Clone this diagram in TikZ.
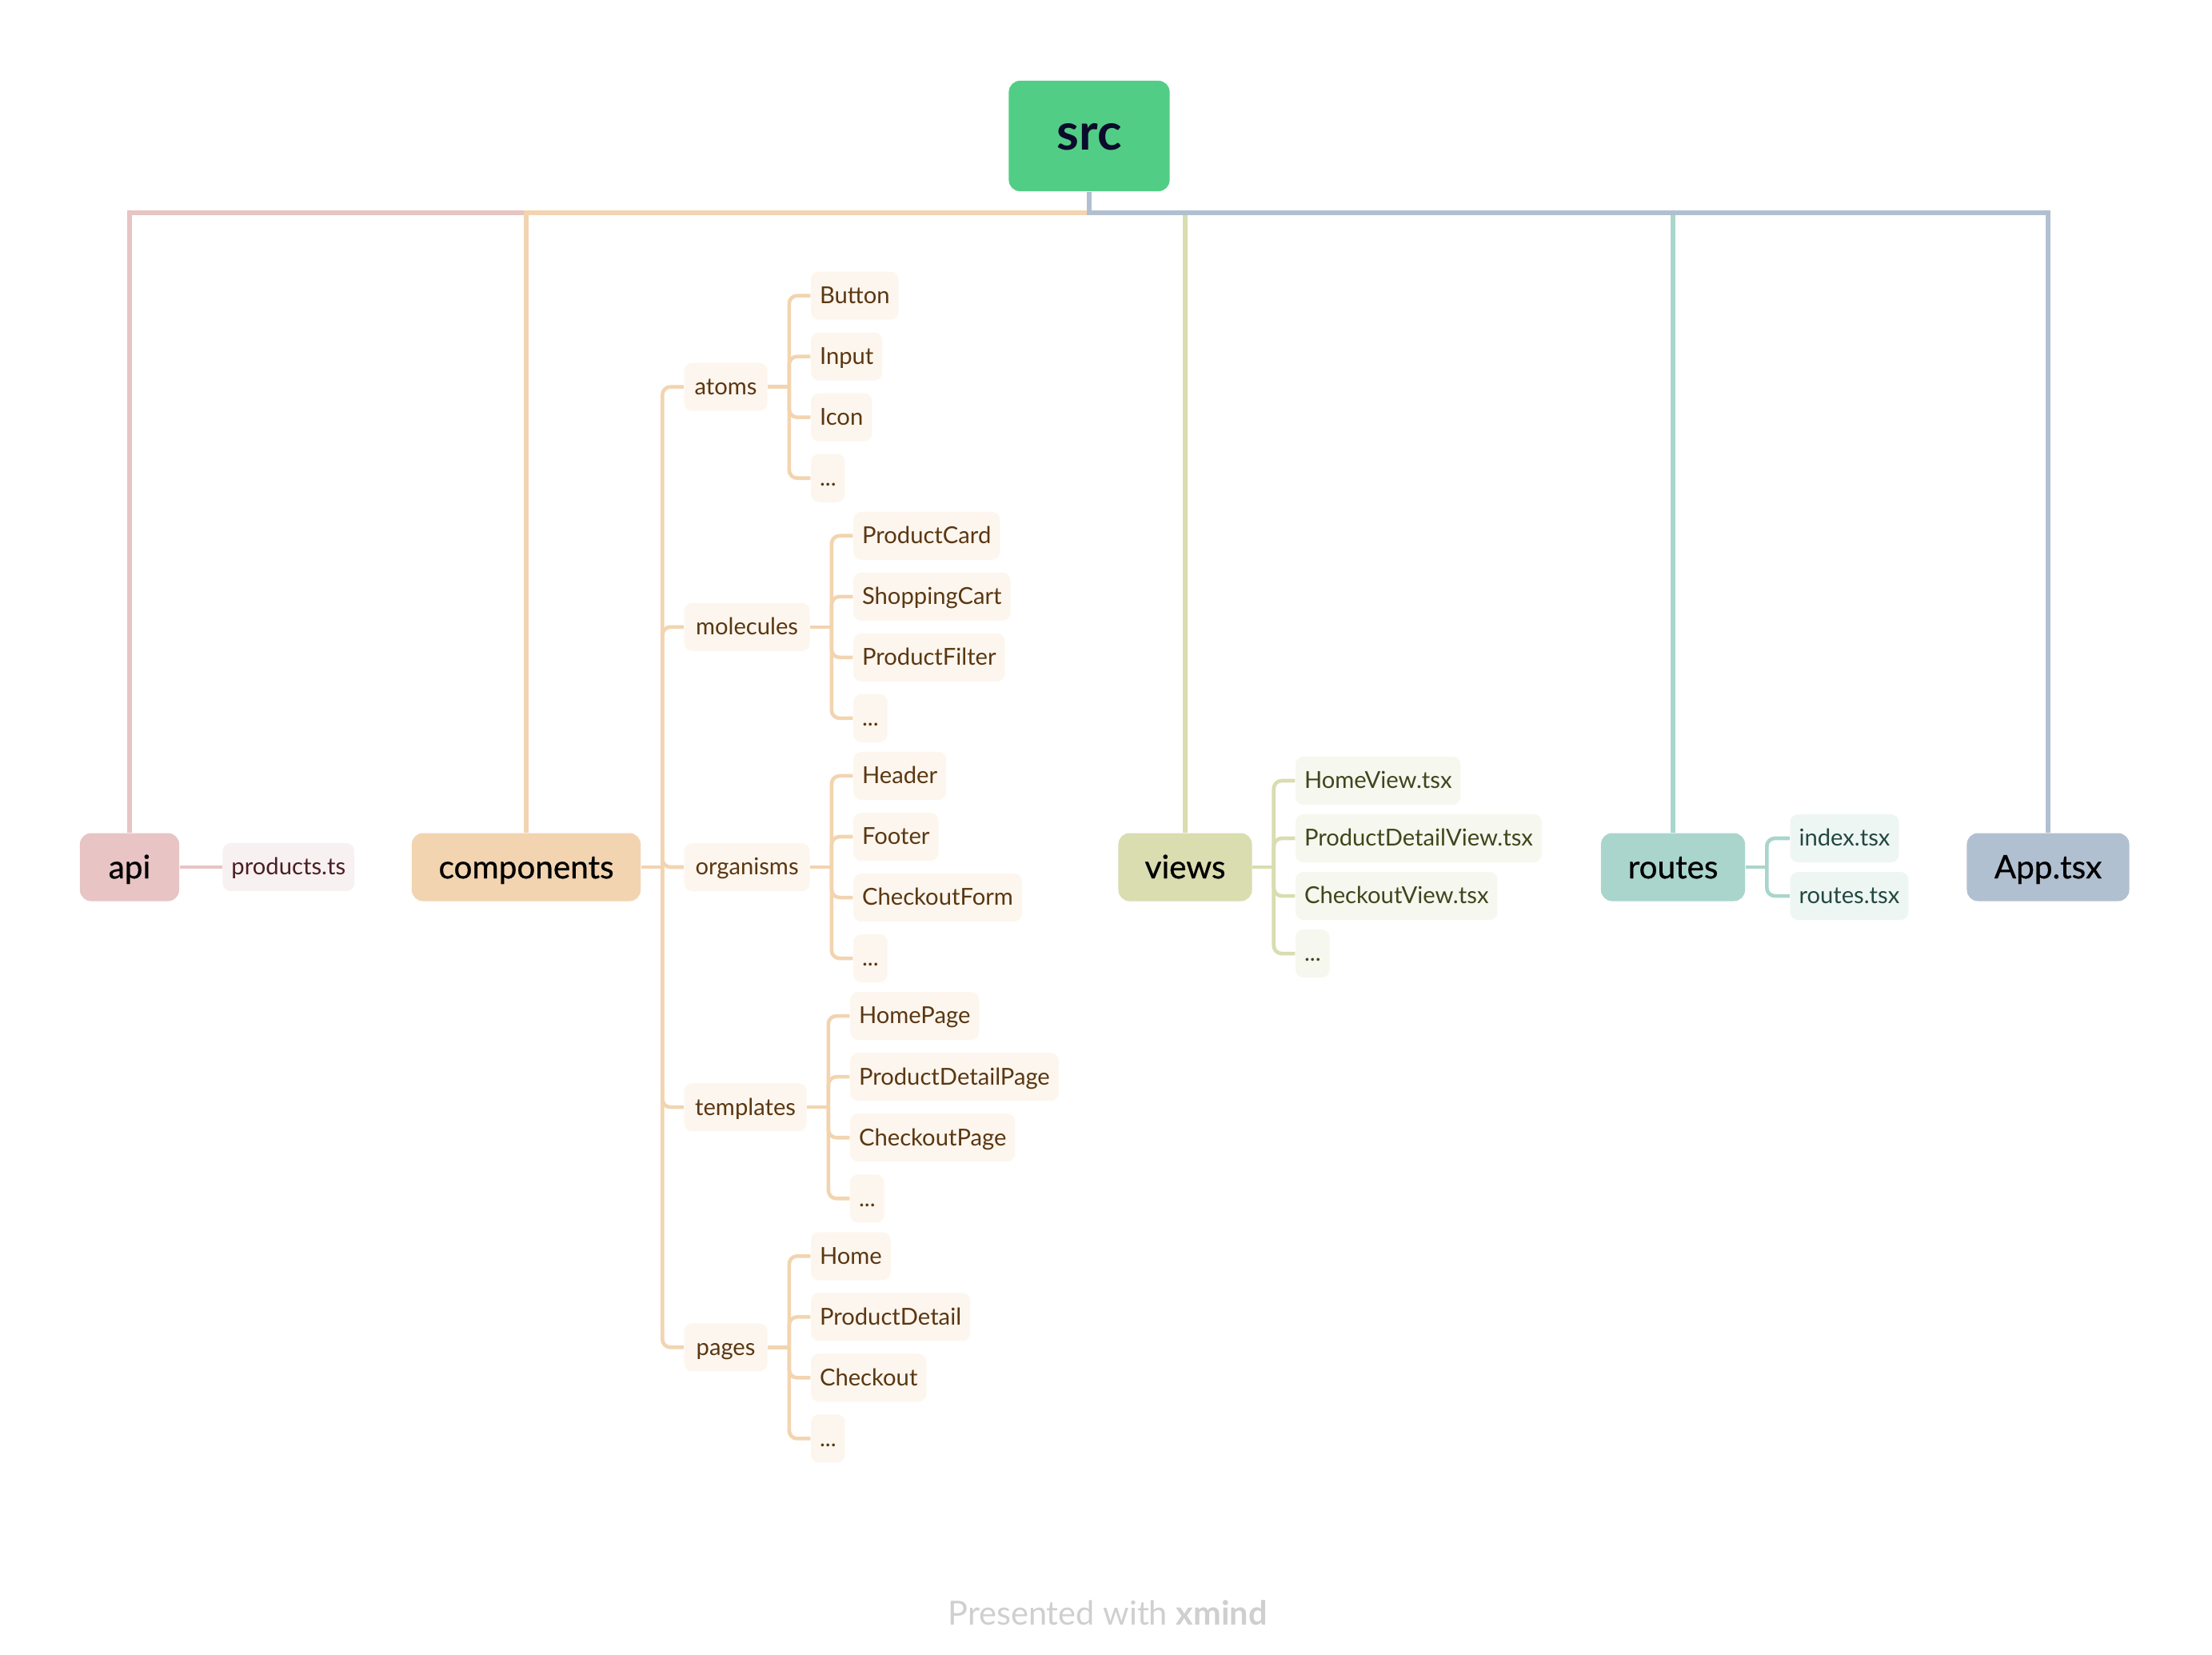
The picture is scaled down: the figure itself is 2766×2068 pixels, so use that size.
\documentclass[tikz,border=0pt]{standalone}
\usepackage{fontspec}
\setmainfont{Lato}
\newfontfamily\topicfont[FakeBold=0.7]{Lato}
\usetikzlibrary{calc}

\definecolor{srcfill}{HTML}{52CD85}
\definecolor{srctext}{HTML}{0B0B2B}
\definecolor{apic}{HTML}{E8C4C4}
\definecolor{apileaf}{HTML}{F8F1F1}
\definecolor{apitext}{HTML}{4A1E22}
\definecolor{compc}{HTML}{F2D4B0}
\definecolor{compleaf}{HTML}{FDF6EE}
\definecolor{comptext}{HTML}{5A3712}
\definecolor{viewc}{HTML}{D9DDB0}
\definecolor{viewleaf}{HTML}{F6F7EF}
\definecolor{viewtext}{HTML}{3F461C}
\definecolor{routec}{HTML}{A9D5CC}
\definecolor{routeleaf}{HTML}{EEF6F4}
\definecolor{routetext}{HTML}{234840}
\definecolor{appc}{HTML}{B1C0D0}
\definecolor{wmgray}{HTML}{CFCFCF}

\tikzset{
  busline/.style={line width=1.7pt},
  twig/.style={line width=1.3pt, rounded corners=0.1cm},
  topic/.style={rounded corners=0.14cm, minimum height=0.85cm, inner sep=0pt,
    font=\topicfont\fontsize{11.5}{13}\selectfont, text=black,
    text height=0.9em, text depth=0.1em},
  leaf/.style={rounded corners=0.1cm, minimum height=0.6cm, inner xsep=0.11cm,
    inner ysep=0pt, anchor=west, font=\fontsize{8.3}{10}\selectfont,
    text height=0.76em, text depth=0.2em},
  compleafs/.style={leaf, fill=compleaf, text=comptext},
  viewleafs/.style={leaf, fill=viewleaf, text=viewtext},
  routeleafs/.style={leaf, fill=routeleaf, text=routetext},
}

% parent -> short stub -> trunk -> rounded elbows into each child
\newcommand\fan[3]{%
  \draw[#1] (#2.east) -- ([xshift=0.265cm]#2.east) coordinate (#2t);
  \foreach \kid in {#3}{\draw[#1] (#2t) |- (\kid.west);}%
}

\begin{document}
\begin{tikzpicture}[x=0.01cm, y=-0.01cm]
\useasboundingbox[fill=white] (0,0) rectangle (2766,2068);

% root
\node[rounded corners=0.14cm, fill=srcfill, text=srctext, minimum width=2.01cm,
  minimum height=1.38cm, inner sep=0pt, font=\fontsize{18}{20}\selectfont\bfseries,
  text height=1.05em, text depth=0.07em] (src) at (1362,170) {src};

% main topics
\node[topic, fill=apic, minimum width=1.24cm] (api) at (162,1084) {api};
\node[topic, fill=compc, minimum width=2.86cm] (components) at (658,1084) {components};
\node[topic, fill=viewc, minimum width=1.67cm] (views) at (1482,1084) {views};
\node[topic, fill=routec, minimum width=1.80cm] (routes) at (2092,1084) {routes};
\node[topic, fill=appc, minimum width=2.03cm] (app) at (2561,1084) {App.tsx};

% bus from the root to each main topic
\coordinate (bus) at (1362,266);
\draw[busline, apic] (src.south) -- (bus) -| (api.north);
\draw[busline, compc] (src.south) -- (bus) -| (components.north);
\draw[busline, viewc] (src.south) -- (bus) -| (views.north);
\draw[busline, routec] (src.south) -- (bus) -| (routes.north);
\draw[busline, appc] (src.south) -- (bus) -| (app.north);

% api
\node[leaf, fill=apileaf, text=apitext] (products) at ([xshift=0.53cm]api.east) {products.ts};
\draw[twig, apic] (api.east) -- (products.west);

% components, second level
\node[compleafs, minimum width=1.04cm] (atoms) at ([shift={(0.53cm,6cm)}]components.east) {atoms};
\node[compleafs, minimum width=1.57cm] (molecules) at ([shift={(0.53cm,3cm)}]components.east) {molecules};
\node[compleafs, minimum width=1.57cm] (organisms) at ([shift={(0.53cm,0cm)}]components.east) {organisms};
\node[compleafs, minimum width=1.53cm] (templates) at ([shift={(0.53cm,-3cm)}]components.east) {templates};
\node[compleafs, minimum width=1.04cm] (pages) at ([shift={(0.53cm,-6cm)}]components.east) {pages};
\fan{twig, compc}{components}{atoms,molecules,organisms,templates,pages}

% atoms
\node[compleafs] (button) at ([shift={(0.53cm,1.14cm)}]atoms.east) {Button};
\node[compleafs] (input) at ([shift={(0.53cm,0.38cm)}]atoms.east) {Input};
\node[compleafs] (icon) at ([shift={(0.53cm,-0.38cm)}]atoms.east) {Icon};
\node[compleafs] (atomsmore) at ([shift={(0.53cm,-1.14cm)}]atoms.east) {...};
\fan{twig, compc}{atoms}{button,input,icon,atomsmore}

% molecules
\node[compleafs] (productcard) at ([shift={(0.53cm,1.14cm)}]molecules.east) {ProductCard};
\node[compleafs] (shoppingcart) at ([shift={(0.53cm,0.38cm)}]molecules.east) {ShoppingCart};
\node[compleafs] (productfilter) at ([shift={(0.53cm,-0.38cm)}]molecules.east) {ProductFilter};
\node[compleafs] (moleculesmore) at ([shift={(0.53cm,-1.14cm)}]molecules.east) {...};
\fan{twig, compc}{molecules}{productcard,shoppingcart,productfilter,moleculesmore}

% organisms
\node[compleafs] (header) at ([shift={(0.53cm,1.14cm)}]organisms.east) {Header};
\node[compleafs] (footer) at ([shift={(0.53cm,0.38cm)}]organisms.east) {Footer};
\node[compleafs] (checkoutform) at ([shift={(0.53cm,-0.38cm)}]organisms.east) {CheckoutForm};
\node[compleafs] (organismsmore) at ([shift={(0.53cm,-1.14cm)}]organisms.east) {...};
\fan{twig, compc}{organisms}{header,footer,checkoutform,organismsmore}

% templates
\node[compleafs] (homepage) at ([shift={(0.53cm,1.14cm)}]templates.east) {HomePage};
\node[compleafs] (productdetailpage) at ([shift={(0.53cm,0.38cm)}]templates.east) {ProductDetailPage};
\node[compleafs] (checkoutpage) at ([shift={(0.53cm,-0.38cm)}]templates.east) {CheckoutPage};
\node[compleafs] (templatesmore) at ([shift={(0.53cm,-1.14cm)}]templates.east) {...};
\fan{twig, compc}{templates}{homepage,productdetailpage,checkoutpage,templatesmore}

% pages
\node[compleafs] (home) at ([shift={(0.53cm,1.14cm)}]pages.east) {Home};
\node[compleafs] (productdetail) at ([shift={(0.53cm,0.38cm)}]pages.east) {ProductDetail};
\node[compleafs] (checkout) at ([shift={(0.53cm,-0.38cm)}]pages.east) {Checkout};
\node[compleafs] (pagesmore) at ([shift={(0.53cm,-1.14cm)}]pages.east) {...};
\fan{twig, compc}{pages}{home,productdetail,checkout,pagesmore}

% views
\node[viewleafs] (homeview) at ([shift={(0.53cm,1.08cm)}]views.east) {HomeView.tsx};
\node[viewleafs] (pdview) at ([shift={(0.53cm,0.36cm)}]views.east) {ProductDetailView.tsx};
\node[viewleafs] (coview) at ([shift={(0.53cm,-0.36cm)}]views.east) {CheckoutView.tsx};
\node[viewleafs] (viewsmore) at ([shift={(0.53cm,-1.08cm)}]views.east) {...};
\fan{twig, viewc}{views}{homeview,pdview,coview,viewsmore}

% routes
\node[routeleafs] (indextsx) at ([shift={(0.55cm,0.36cm)}]routes.east) {index.tsx};
\node[routeleafs] (routestsx) at ([shift={(0.55cm,-0.36cm)}]routes.east) {routes.tsx};
\fan{twig, routec}{routes}{indextsx,routestsx}

% footer mark
\node[text=wmgray, font=\fontsize{11.8}{13}\selectfont] (mark) at (1385,2016) {Presented with \textbf{xmind}};
\end{tikzpicture}
\end{document}
